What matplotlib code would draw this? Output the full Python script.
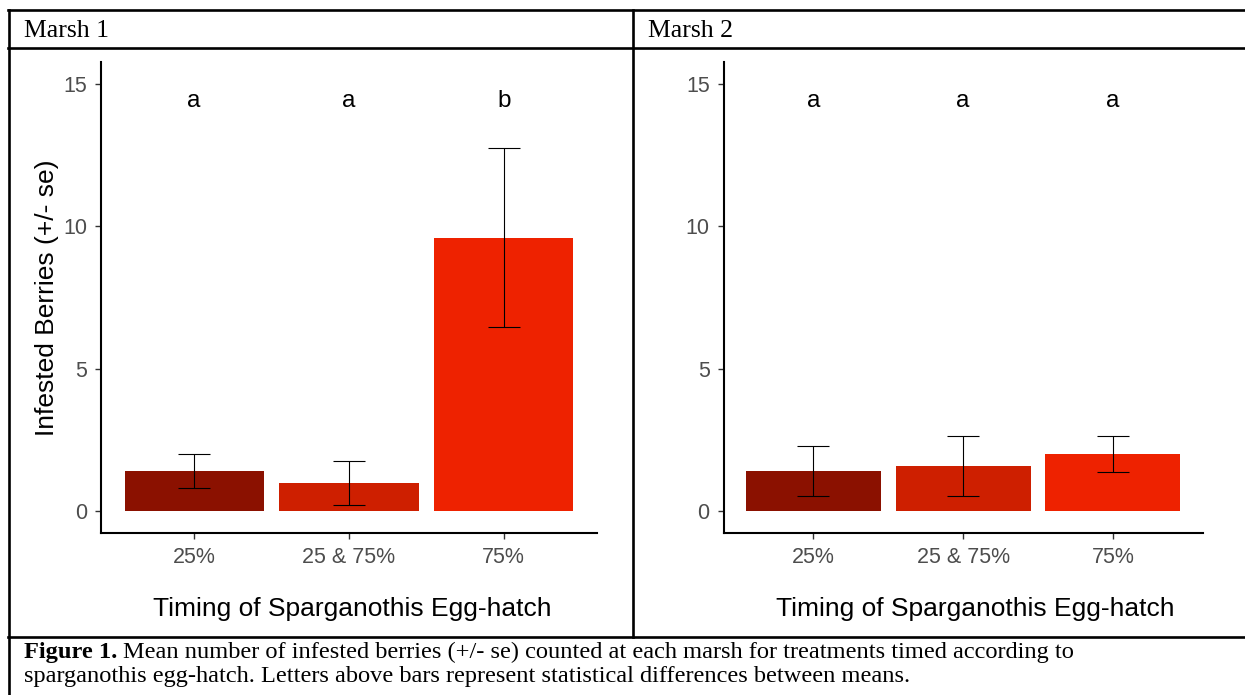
import matplotlib
matplotlib.use("Agg")
import matplotlib.pyplot as plt
from matplotlib.lines import Line2D

# ---------------- data ----------------
categories = ["25%", "25 & 75%", "75%"]
marsh1_mean = [1.4, 0.98, 9.6]
marsh1_se = [0.6, 0.78, 3.15]
marsh1_letters = ["a", "a", "b"]
marsh2_mean = [1.4, 1.58, 2.0]
marsh2_se = [0.88, 1.04, 0.63]
marsh2_letters = ["a", "a", "a"]
panel_titles = ["Marsh 1", "Marsh 2"]
y_ticks = [0, 5, 10, 15]
letter_y = 14.4
y_label = "Infested Berries (+/- se)"
x_label = "Timing of Sparganothis Egg-hatch"
caption_bold = "Figure 1."
caption_line1 = "Mean number of infested berries (+/- se) counted at each marsh for treatments timed according to"
caption_line2 = "sparganothis egg-hatch. Letters above bars represent statistical differences between means."

bar_colors = ["#8B1100", "#CE1F00", "#EE2200"]

W, H = 1245, 695
fig = plt.figure(figsize=(W / 100, H / 100), dpi=100)
fig.patch.set_facecolor("white")

SANS = "Liberation Sans"
SERIF = "Liberation Serif"

def fx(px):
    return px / W

def fy(py):
    return 1 - py / H

# ---------------- table borders ----------------
lw_border = 1.9
def hline(y, x0, x1):
    fig.add_artist(Line2D([fx(x0), fx(x1)], [fy(y), fy(y)], color="black", lw=lw_border))

def vline(x, y0, y1):
    fig.add_artist(Line2D([fx(x), fx(x)], [fy(y0), fy(y1)], color="black", lw=lw_border))

hline(10, 8, 1245)
hline(47.5, 8, 1245)
hline(636.5, 8, 1245)
vline(8.5, 10, 695)
vline(632.5, 10, 636.5)

# ---------------- panels ----------------
panels = [
    dict(x0=101.3, x1=596.6, mean=marsh1_mean, se=marsh1_se, letters=marsh1_letters,
         title=panel_titles[0], title_x=24, ylabel=True, xlabel_x=352),
    dict(x0=723.6, x1=1202.7, mean=marsh2_mean, se=marsh2_se, letters=marsh2_letters,
         title=panel_titles[1], title_x=648, ylabel=False, xlabel_x=975),
]
y_top_px, y_bot_px = 62, 532.7
ylim = (-0.76, 15.77)

for p in panels:
    ax = fig.add_axes([fx(p["x0"]), fy(y_bot_px), fx(p["x1"]) - fx(p["x0"]),
                       (y_bot_px - y_top_px) / H])
    xs = list(range(1, len(categories) + 1))
    ax.bar(xs, p["mean"], width=0.9, color=bar_colors, zorder=1)
    ax.errorbar(xs, p["mean"], yerr=p["se"], fmt="none", ecolor="black",
                elinewidth=0.8, capsize=11.5, capthick=0.8, zorder=2)
    for x, t in zip(xs, p["letters"]):
        ax.text(x, letter_y, t, ha="center", va="center", fontsize=17.5,
                family=SANS, color="black")
    ax.set_xlim(0.4, len(categories) + 0.6)
    ax.set_ylim(*ylim)
    ax.set_xticks(xs)
    ax.set_xticklabels(categories)
    ax.set_yticks(y_ticks)
    ax.set_yticklabels([str(v) for v in y_ticks])
    for lab in ax.get_xticklabels() + ax.get_yticklabels():
        lab.set_fontfamily(SANS)
        lab.set_fontsize(15.5)
        lab.set_color("#4D4D4D")
    ax.tick_params(axis="both", length=4, width=1.0, color="#333333", pad=6)
    for s in ["top", "right"]:
        ax.spines[s].set_visible(False)
    for s in ["left", "bottom"]:
        ax.spines[s].set_linewidth(1.5)
        ax.spines[s].set_color("black")
    ax.set_facecolor("white")
    if p["ylabel"]:
        fig.text(fx(47), fy((y_top_px + y_bot_px) / 2), y_label, rotation=90,
                 ha="center", va="center", fontsize=19, family=SANS, color="black")
    fig.text(fx(p["xlabel_x"]), fy(609), x_label, ha="center", va="center",
             fontsize=19, family=SANS, color="black")
    fig.text(fx(p["title_x"]), fy(37), p["title"], ha="left", va="baseline",
             fontsize=18.5, family=SERIF, color="black")

# ---------------- caption ----------------
renderer = fig.canvas.get_renderer()
cap_x0 = 24
target_end = 1077
size = 15.0
tb = fig.text(fx(cap_x0), fy(658), caption_bold, fontsize=size, family=SERIF,
              weight="bold", ha="left", va="baseline")
t1 = fig.text(0, fy(658), caption_line1, fontsize=size, family=SERIF,
              ha="left", va="baseline")
wb = tb.get_window_extent(renderer).width
w1 = t1.get_window_extent(renderer).width
space = size * 0.3
scale = (target_end - cap_x0) / (wb + space + w1)
size = size * scale
tb.set_fontsize(size)
t1.set_fontsize(size)
wb = tb.get_window_extent(renderer).width
t1.set_x(fx(cap_x0 + wb + size * 0.3))
fig.text(fx(cap_x0), fy(682), caption_line2, fontsize=size, family=SERIF,
         ha="left", va="baseline")

fig.savefig("out.png", dpi=100, facecolor="white")
